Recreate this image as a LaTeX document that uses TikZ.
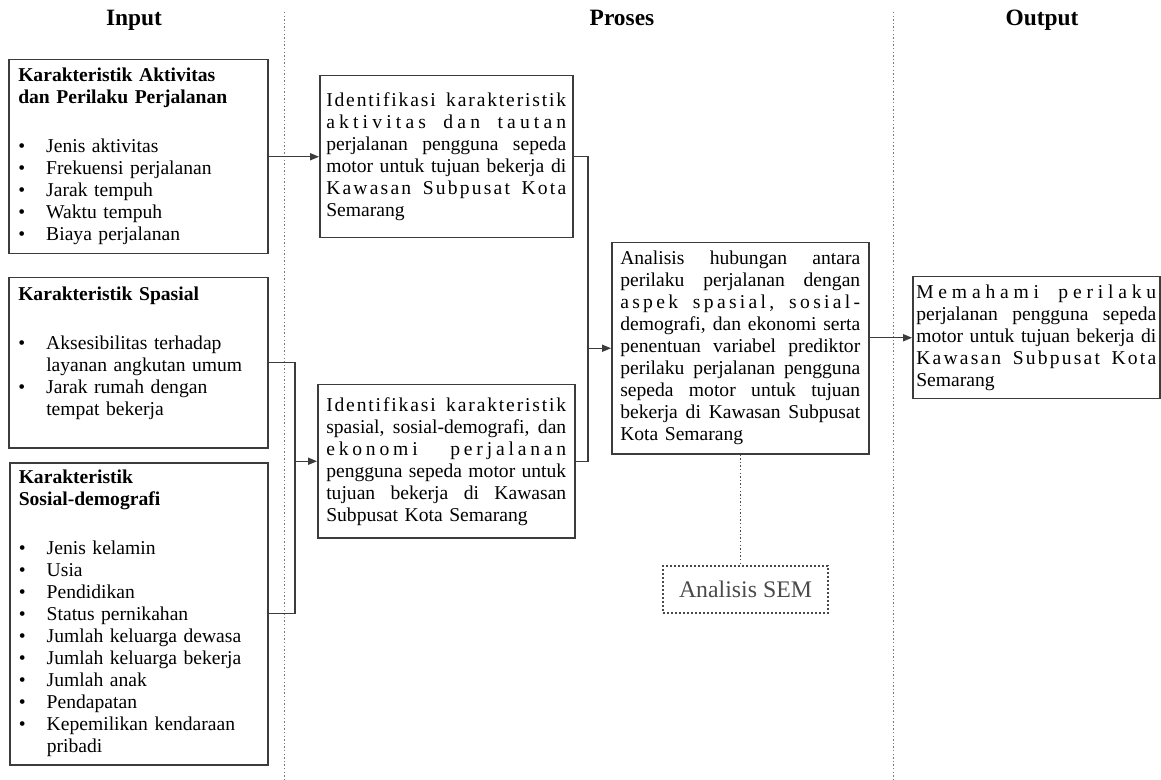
\documentclass[tikz,border=0pt]{standalone}
\usepackage{fontspec}
\setmainfont{Liberation Serif}
\usepackage{xcolor}
\usetikzlibrary{arrows.meta,positioning}

\definecolor{linegray}{HTML}{3C3C3C}
\definecolor{sepgray}{HTML}{7A7A7A}
\definecolor{semgray}{HTML}{4A4A4A}

\tikzset{
  box/.style={draw=linegray, line width=0.75pt, anchor=north west,
    inner xsep=1.5pt, inner ysep=0pt, align=left,
    font=\fontsize{9.8}{11}\selectfont},
  arr/.style={draw=linegray, line width=0.6pt, -{Triangle[length=4.5pt,width=3.6pt]}},
  link/.style={draw=linegray, line width=0.6pt},
  sep/.style={draw=sepgray, line width=0.5pt, dash pattern=on 0.7pt off 1.1pt},
  head/.style={anchor=base, font=\fontsize{11.7}{14}\selectfont\bfseries},
}

% justified line, letter-spaced word, bullet item
\newlength{\procw}
\setlength{\procw}{120pt}
\newcommand{\jl}[1]{\hbox to \procw{\spaceskip=0pt\xspaceskip=0pt #1}\par}
\makeatletter
\def\lsl#1#2{#1\ifx\relax#2\expandafter\@gobble\else\hfil\expandafter\lsl\fi{#2}}
\makeatother
\newcommand{\lsw}[1]{\lsl#1\relax}
\newcommand{\wg}{\hskip 0.25em plus 3fil\relax}
\newcommand{\itm}[1]{\par\hangindent=14pt\hangafter=1\noindent
  \makebox[14pt][l]{\textbullet}#1\par}
\newcommand{\tailpad}[1]{\par\vspace{#1}\hrule height 0pt}

\begin{document}
\begin{tikzpicture}[x=0.5pt,y=-0.5pt]
  \useasboundingbox (0,0) rectangle (1161,780);
  % columns
  \draw[sep] (284,12) -- (284,780);
  \draw[sep] (893,12) -- (893,780);
  \node[head] (hinput) at (134,26) {Input};
  \node[head] (hproses) at (622,26) {Proses};
  \node[head] (houtput) at (1042,26) {Output};

  % input
  \node[box, minimum width=129.5pt, minimum height=97pt, text width=120pt] (aktiv) at (8,59) {%
    {\bfseries Karakteristik Aktivitas\\dan Perilaku Perjalanan}\par\vspace{13.5pt}
    \itm{Jenis aktivitas}
    \itm{Frekuensi perjalanan}
    \itm{Jarak tempuh}
    \itm{Waktu tempuh}
    \itm{Biaya perjalanan}};
  \node[box, minimum width=129.5pt, minimum height=85pt, text width=120pt] (spasial) at (8,277) {%
    {\bfseries Karakteristik Spasial}\par\vspace{13.5pt}
    \itm{Aksesibilitas terhadap\newline layanan angkutan umum}
    \itm{Jarak rumah dengan\newline tempat bekerja}\tailpad{9pt}};
  \node[box, minimum width=129pt, minimum height=151pt, text width=120pt] (sosial) at (9,462) {%
    {\bfseries Karakteristik\\Sosial-demografi}\par\vspace{13.5pt}
    \itm{Jenis kelamin}
    \itm{Usia}
    \itm{Pendidikan}
    \itm{Status pernikahan}
    \itm{Jumlah keluarga dewasa}
    \itm{Jumlah keluarga bekerja}
    \itm{Jumlah anak}
    \itm{Pendapatan}
    \itm{Kepemilikan kendaraan\newline pribadi}};

  % proses
  \node[box, minimum width=126.5pt, minimum height=81pt, text width=120pt] (idaktiv) at (319,75) {%
    \jl{\lsw{Identifikasi}\wg\lsw{karakteristik}}
    \jl{\lsw{aktivitas}\wg\lsw{dan}\wg\lsw{tautan}}
    \jl{perjalanan pengguna sepeda}
    \jl{motor untuk tujuan bekerja di}
    \jl{\lsw{Kawasan}\wg\lsw{Subpusat}\wg\lsw{Kota}}
    Semarang};
  \node[box, minimum width=128.5pt, minimum height=76.5pt, text width=120pt] (idspasial) at (317,384) {%
    \jl{\lsw{Identifikasi}\wg\lsw{karakteristik}}
    \jl{spasial, sosial-demografi, dan}
    \jl{\lsw{ekonomi}\wg\wg\lsw{perjalanan}}
    \jl{pengguna sepeda motor untuk}
    \jl{tujuan bekerja di Kawasan}
    Subpusat Kota Semarang};
  \node[box, minimum width=128.5pt, minimum height=105.5pt, text width=120pt] (analisis) at (611,242) {%
    \jl{Analisis hubungan antara}
    \jl{perilaku perjalanan dengan}
    \jl{\lsw{aspek}\wg\lsw{spasial,}\wg\lsw{sosial-}}
    \jl{demografi, dan ekonomi serta}
    \jl{penentuan variabel prediktor}
    \jl{perilaku perjalanan pengguna}
    \jl{sepeda motor untuk tujuan}
    \jl{bekerja di Kawasan Subpusat}
    Kota Semarang};
  \node[draw=semgray, line width=0.6pt, dash pattern=on 0.8pt off 1.2pt,
    text=semgray, font=\fontsize{11.9}{14}\selectfont,
    minimum width=82.5pt, minimum height=23.5pt] (sem) at (745.5,589.5) {Analisis SEM};

  % output
  \node[box, minimum width=123.5pt, minimum height=61pt, text width=120pt] (memahami) at (912,276) {%
    \jl{\lsw{Memahami}\wg\lsw{perilaku}}
    \jl{perjalanan pengguna sepeda}
    \jl{motor untuk tujuan bekerja di}
    \jl{\lsw{Kawasan}\wg\lsw{Subpusat}\wg\lsw{Kota}}
    Semarang};

  % connectors
  \coordinate (jointL) at (295,0);
  \coordinate (jointR) at (588,0);
  \draw[arr] (aktiv.east) -- (aktiv.east -| idaktiv.west);
  \draw[link] (spasial.east) -- (spasial.east -| jointL) |- (sosial.east);
  \draw[arr] (jointL |- idspasial.west) -- (idspasial.west);
  \draw[link] (idaktiv.east) -- (idaktiv.east -| jointR) |- (idspasial.east);
  \draw[arr] (jointR |- analisis.west) -- (analisis.west);
  \draw[arr] (analisis.east |- memahami.west) -- (memahami.west);
  \draw[sep, draw=semgray] (analisis.south) -- (analisis.south |- sem.north);
\end{tikzpicture}
\end{document}
